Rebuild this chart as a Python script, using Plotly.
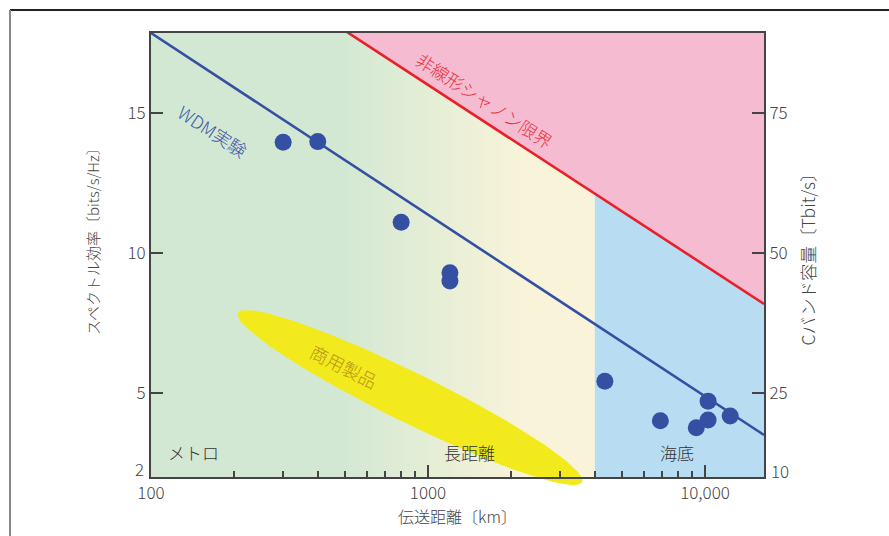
import numpy as np
import plotly.graph_objects as go

# ---------------- data ----------------
x_min, x_max = 100, 16330          # transmission distance range (km)
y_min, y_max = 2, 17.86            # spectral efficiency range (bits/s/Hz)
cap_per_se = 5                     # C-band capacity (Tbit/s) per bits/s/Hz

wdm_dist = [300, 400, 800, 1200, 1200, 4350, 6900, 9300, 10260, 10260, 12330]
wdm_se = [13.96, 13.98, 11.1, 9.3, 9.0, 5.42, 4.01, 3.76, 4.71, 4.04, 4.18]

wdm_line_dist = [100, 16330]
wdm_line_se = [17.86, 3.5]

shannon_dist = [500, 16330]
shannon_se = [17.95, 8.18]

terrestrial_edges = [100, 4000]
submarine_edges = [4000, 16330]

# commercial-products ellipse (log10 distance, spectral efficiency)
ell_center = (2.935, 4.84)
ell_major = (0.621, -3.02)
ell_minor = (-0.040, -0.80)

x_tickvals = [100, 1000, 10000]
x_ticktext = ["100", "1000", "10,000"]
x_minor_vals = [200, 300, 400, 500, 600, 700, 800, 900,
                2000, 3000, 4000, 5000, 6000, 7000, 8000, 9000]
y_tickvals = [2, 5, 10, 15]
y_ticktext = ["", "5", "10", "15"]
y2_tickvals = [10, 25, 50, 75]
y2_ticktext = ["", "25", "50", "75"]

region_labels = ["メトロ", "長距離", "海底"]
region_label_x = [142, 1413, 7925]
region_label_y = [2.89, 2.89, 2.89]

# ---------------- colours ----------------
GREEN = "#d3e8d3"
CREAM = "#f9f4d9"
BLUE_BG = "#b8ddf3"
PINK = "#f5bbd1"
YELLOW = "#f2ea1c"
BLUE = "#3550a3"
RED = "#e8202a"
FONT = "Noto Sans CJK JP"
TXT = "#444444"

fig = go.Figure()

# terrestrial gradient region
fig.add_trace(go.Scatter(
    x=[terrestrial_edges[0], terrestrial_edges[1], terrestrial_edges[1], terrestrial_edges[0]],
    y=[y_min, y_min, y_max, y_max],
    fill="toself", mode="lines", line=dict(width=0),
    fillgradient=dict(type="horizontal",
                      colorscale=[[0, GREEN], [0.43, GREEN], [0.85, CREAM], [1, CREAM]]),
    hoverinfo="skip", showlegend=False))

# submarine region
fig.add_trace(go.Scatter(
    x=[submarine_edges[0], submarine_edges[1], submarine_edges[1], submarine_edges[0]],
    y=[y_min, y_min, y_max, y_max],
    fill="toself", mode="lines", line=dict(width=0), fillcolor=BLUE_BG,
    hoverinfo="skip", showlegend=False))

# above nonlinear Shannon limit
fig.add_trace(go.Scatter(
    x=[shannon_dist[0], shannon_dist[1], shannon_dist[1], shannon_dist[0]],
    y=[shannon_se[0], shannon_se[1], y_max + 1, y_max + 1],
    fill="toself", mode="lines", line=dict(width=0), fillcolor=PINK,
    hoverinfo="skip", showlegend=False))

# ellipse
t = np.linspace(0, 2 * np.pi, 181)
ell_lx = ell_center[0] + np.cos(t) * ell_major[0] + np.sin(t) * ell_minor[0]
ell_y = ell_center[1] + np.cos(t) * ell_major[1] + np.sin(t) * ell_minor[1]
ell_x = 10 ** ell_lx
fig.add_trace(go.Scatter(
    x=ell_x, y=ell_y, fill="toself", mode="lines", line=dict(width=0),
    fillcolor=YELLOW, hoverinfo="skip", showlegend=False))

# part of the ellipse that overflows below the axis
ell_yd = (ell_y - y_min) / (y_max - y_min)
path = "M " + " L ".join(f"{xx:.3f},{yy:.5f}" for xx, yy in zip(ell_x, ell_yd)) + " Z"
fig.add_shape(type="path", path=path, xref="x", yref="y domain",
              fillcolor=YELLOW, line=dict(width=0), layer="below")

# Shannon line
fig.add_trace(go.Scatter(x=shannon_dist, y=shannon_se, mode="lines",
                         line=dict(color=RED, width=2.6), hoverinfo="skip",
                         showlegend=False))
# WDM trend line
fig.add_trace(go.Scatter(x=wdm_line_dist, y=wdm_line_se, mode="lines",
                         line=dict(color=BLUE, width=2.6), hoverinfo="skip",
                         showlegend=False))
# WDM experiments
fig.add_trace(go.Scatter(x=wdm_dist, y=wdm_se, mode="markers",
                         marker=dict(color=BLUE, size=17, line=dict(width=0)),
                         showlegend=False, cliponaxis=False))
# capacity axis reference (invisible)
fig.add_trace(go.Scatter(x=[x_min, x_max], y=[y_min * cap_per_se, y_max * cap_per_se],
                         yaxis="y2", mode="markers", marker=dict(opacity=0),
                         hoverinfo="skip", showlegend=False))

# region labels
for lab, lx, ly in zip(region_labels, region_label_x, region_label_y):
    fig.add_annotation(x=np.log10(lx), y=ly, text=lab, showarrow=False,
                       font=dict(family=FONT, size=17, color="#333333", weight=300))

fig.add_annotation(x=np.log10(168), y=14.36, text="WDM実験", showarrow=False,
                   textangle=33, font=dict(family=FONT, size=18, color="#3e58ab", weight=300))
fig.add_annotation(x=np.log10(1607), y=15.46, text="非線形シャノン限界", showarrow=False,
                   textangle=33, font=dict(family=FONT, size=17.5, color="#e8323c", weight=300))
fig.add_annotation(x=np.log10(498), y=5.96, text="商用製品", showarrow=False,
                   textangle=27, font=dict(family=FONT, size=18, color="#b8961a", weight=300))

# bottom tick labels of both y axes (sit slightly above the axis)
fig.add_annotation(xref="paper", yref="y", x=0, y=y_tickvals[0], text=str(y_tickvals[0]),
                   xanchor="right", xshift=-5, yshift=9, showarrow=False,
                   font=dict(family=FONT, size=17, color=TXT, weight=300))
fig.add_annotation(xref="paper", yref="y2", x=1, y=y2_tickvals[0], text=str(y2_tickvals[0]),
                   xanchor="left", xshift=5, yshift=7, showarrow=False,
                   font=dict(family=FONT, size=17, color=TXT, weight=300))

# left axis title (sits a little above the plot centre)
fig.add_annotation(xref="paper", yref="paper", x=0, y=0.5, xshift=-59, yshift=17,
                   text="スペクトル効率〔bits/s/Hz〕", textangle=-90, showarrow=False,
                   xanchor="center", yanchor="middle",
                   font=dict(family=FONT, size=15, color=TXT, weight=300))

# outer frame
fig.add_shape(type="line", xref="paper", yref="paper", x0=-0.23, x1=1.4,
              y0=1.0518, y1=1.0518, line=dict(color="#222222", width=2))
fig.add_shape(type="line", xref="paper", yref="paper", x0=-0.23, x1=-0.23,
              y0=1.0518, y1=-0.3, line=dict(color="#888888", width=2))

axis_common = dict(showgrid=False, zeroline=False, showline=True,
                   linecolor="#444444", linewidth=2,
                   ticks="inside", ticklen=12, tickwidth=1.5, tickcolor="#444444",
                   tickfont=dict(family=FONT, size=17, color=TXT, weight=300))

fig.update_layout(
    width=889, height=536,
    margin=dict(l=151, r=125, t=33, b=59),
    paper_bgcolor="white", plot_bgcolor="white",
    font=dict(family=FONT, color=TXT),
    xaxis=dict(type="log", range=[np.log10(x_min), np.log10(x_max)],
               tickmode="array", tickvals=x_tickvals, ticktext=x_ticktext,
               mirror=True,
               minor=dict(tickmode="array", tickvals=x_minor_vals, ticks="inside",
                          ticklen=6, tickwidth=1.5, tickcolor="#444444"),
               title=dict(text="伝送距離〔km〕", standoff=6,
                          font=dict(family=FONT, size=16, color=TXT, weight=300)),
               **axis_common),
    yaxis=dict(range=[y_min, y_max], tickmode="array", tickvals=y_tickvals,
               ticktext=y_ticktext, **axis_common),
    yaxis2=dict(range=[y_min * cap_per_se, y_max * cap_per_se], overlaying="y",
                side="right", tickmode="array", tickvals=y2_tickvals,
                ticktext=y2_ticktext,
                title=dict(text="Cバンド容量〔Tbit/s〕", standoff=16,
                           font=dict(family=FONT, size=17.5, color=TXT, weight=300)),
                **axis_common),
)

fig.write_html("out.html", config={"displayModeBar": False},
               post_script="document.body.style.margin='0px';")
